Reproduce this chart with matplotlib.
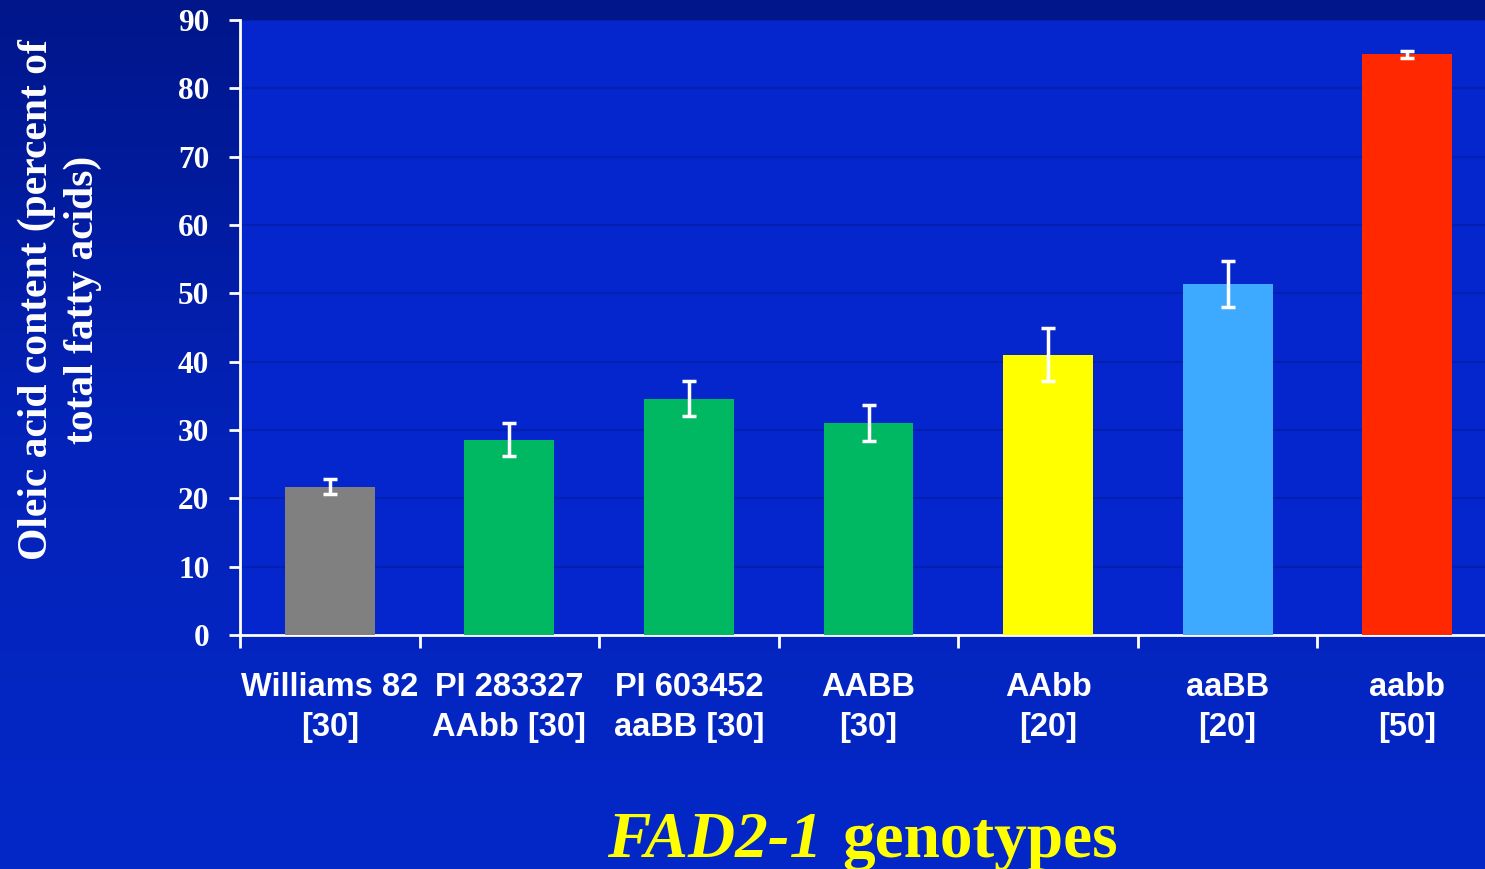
import matplotlib.pyplot as plt
import numpy as np
from matplotlib.colors import LinearSegmentedColormap

# data
genotypes = ['Williams 82\n[30]', 'PI 283327\nAAbb [30]', 'PI 603452\naaBB [30]',
             'AABB\n[30]', 'AAbb\n[20]', 'aaBB\n[20]', 'aabb\n[50]']
oleic = [21.7, 28.6, 34.6, 31.0, 41.0, 51.4, 85.0]
oleic_err = [1.1, 2.4, 2.5, 2.6, 3.9, 3.4, 0.5]
bar_colors = ['#808080', '#00b862', '#00b862', '#00b862', '#ffff00', '#3daaff', '#ff2800']

W, H = 1485, 869
fig = plt.figure(figsize=(W / 100, H / 100), dpi=100)

# background gradient (dark navy at top -> brighter blue at bottom)
bg = fig.add_axes([0, 0, 1, 1], zorder=-10)
cmap = LinearSegmentedColormap.from_list('bg', ['#00168a', '#0322b8', '#0428c8'])
grad = np.linspace(0, 1, 256).reshape(-1, 1)
bg.imshow(grad, aspect='auto', cmap=cmap, extent=[0, 1, 0, 1], origin='upper')
bg.axis('off')

ax = fig.add_axes([240 / W, (H - 635) / H, 1257 / W, 615 / H])
ax.set_facecolor('#0426cc')

x = np.arange(len(genotypes))
ax.bar(x, oleic, width=0.5, color=bar_colors, zorder=3)
ax.errorbar(x, oleic, yerr=oleic_err, fmt='none', ecolor='white',
            elinewidth=2.5, capsize=5, capthick=2.5, zorder=4)

ax.set_xlim(-0.5, len(genotypes) - 0.5)
ax.set_ylim(0, 90)
ax.set_yticks(np.arange(0, 91, 10))
ax.yaxis.grid(True, color='#0320b0', linewidth=1.5, zorder=0)

for s in ['top', 'right']:
    ax.spines[s].set_visible(False)
for s in ['left', 'bottom']:
    ax.spines[s].set_color('white')
    ax.spines[s].set_linewidth(2)

ax.set_xticks(x)
ax.set_xticklabels(genotypes, fontsize=23.5, fontweight='bold', color='white',
                   family='Liberation Sans', linespacing=1.35)
ax.set_xticks(np.arange(-0.5, len(genotypes), 1), minor=True)
ax.tick_params(axis='x', which='major', length=0, pad=27)
ax.tick_params(axis='x', which='minor', length=9, width=2, color='white')
ax.tick_params(axis='y', length=8, width=2, color='white', pad=14)
for lab in ax.get_yticklabels():
    lab.set_fontsize(22.5)
    lab.set_fontweight('bold')
    lab.set_color('white')
    lab.set_family('Liberation Serif')

fig.text(60 / W, (H - 300) / H, 'Oleic acid content (percent of\ntotal fatty acids)',
         rotation=90, ha='center', va='center', multialignment='center',
         fontsize=30, fontweight='bold', color='white', family='Liberation Serif',
         linespacing=1.25)

# bottom title: italic gene name + bold word
fig.text(822 / W, (H - 857) / H, 'FAD2-1', ha='right', va='baseline', fontsize=47,
         fontweight='bold', style='italic', color='#ffff00', family='Liberation Serif')
fig.text(842 / W, (H - 857) / H, 'genotypes', ha='left', va='baseline', fontsize=47,
         fontweight='bold', color='#ffff00', family='Liberation Serif')

plt.savefig('out.png', dpi=100)
